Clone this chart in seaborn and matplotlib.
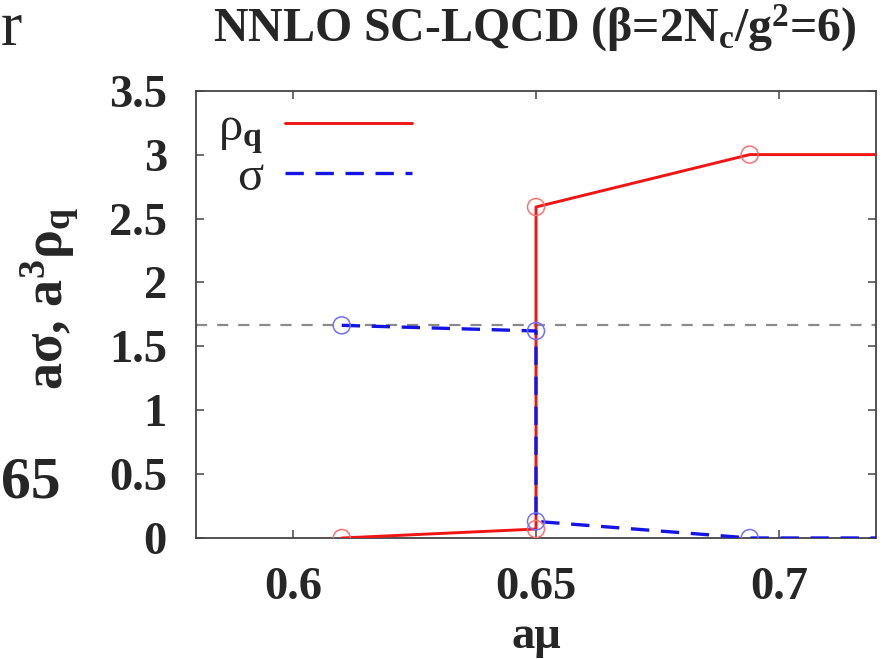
import matplotlib
matplotlib.use("Agg")
import matplotlib.pyplot as plt
import seaborn as sns

# a*mu values along each curve; the first-order jump at a*mu = 0.65 is a vertical step
mu_line = [0.61, 0.65, 0.65, 0.694, 0.72]
rho_line = [0.0, 0.07, 2.59, 3.0, 3.0]
sigma_line = [1.664, 1.62, 0.13, 0.0, 0.0]

# computed points (open circles)
mu_pts = [0.61, 0.65, 0.65, 0.694]
rho_pts = [0.0, 0.07, 2.59, 3.0]
sigma_pts = [1.664, 1.62, 0.13, 0.0]

# vacuum value of the chiral condensate
sigma_vac = 1.664

x_ticks = [0.6, 0.65, 0.7]
x_tick_labels = ["0.6", "0.65", "0.7"]
y_ticks = [0, 0.5, 1, 1.5, 2, 2.5, 3, 3.5]
y_tick_labels = ["0", "0.5", "1", "1.5", "2", "2.5", "3", "3.5"]

sns.set_style("ticks")
plt.rcParams["font.family"] = ["Liberation Serif", "DejaVu Serif"]
plt.rcParams["mathtext.fontset"] = "custom"
plt.rcParams["mathtext.rm"] = "Liberation Serif"
plt.rcParams["mathtext.it"] = "Liberation Serif:italic"
plt.rcParams["mathtext.bf"] = "Liberation Serif:bold"

W, H = 886, 659
fig = plt.figure(figsize=(W / 100, H / 100), dpi=100)
ax = fig.add_axes([196 / W, 1 - 538 / H, (876 - 196) / W, (538 - 90.7) / H])

red = "#f01414"
blue = "#1414e6"

ax.axhline(sigma_vac, color="#8a8a8a", lw=1.6, ls=(0, (5, 4.5)), zorder=1)

sns.lineplot(x=mu_line, y=rho_line, sort=False, estimator=None, ax=ax,
             color=red, lw=2.1, zorder=3)
rho_handle = ax.lines[-1]
sns.lineplot(x=mu_line, y=sigma_line, sort=False, estimator=None, ax=ax,
             color=blue, lw=2.4, ls=(0, (5.5, 3.5)), zorder=4)
sigma_handle = ax.lines[-1]

sns.scatterplot(x=mu_pts, y=rho_pts, ax=ax, marker="o", s=150,
                facecolors="none", edgecolor="#ff7070", linewidth=1.1, zorder=5)
sns.scatterplot(x=mu_pts, y=sigma_pts, ax=ax, marker="o", s=150,
                facecolors="none", edgecolor="#7070ff", linewidth=1.1, zorder=5)

ax.set_xlim(0.58, 0.72)
ax.set_ylim(0, 3.5)
ax.set_xticks(x_ticks)
ax.set_xticklabels(x_tick_labels)
ax.set_yticks(y_ticks)
ax.set_yticklabels(y_tick_labels)

for s in ax.spines.values():
    s.set_visible(True)
    s.set_color("#444444")
    s.set_linewidth(1.3)

ax.tick_params(axis="both", which="major", direction="in", length=6, width=1.1,
               color="#444444", top=True, right=True, labelsize=33.5)
ax.tick_params(axis="x", pad=21)
ax.tick_params(axis="y", pad=21)
for lab in ax.get_xticklabels() + ax.get_yticklabels():
    lab.set_fontweight("bold")

ax.set_xlabel("a\u03bc", fontsize=33.5, fontweight="bold")
ax.xaxis.set_label_coords(0.5, (538 - 648) / 447.3)
ax.xaxis.label.set_va("baseline")

ax.set_ylabel("a\u03c3, a$^{\\mathbf{3}}$\u03c1$_{\\mathbf{q}}$", fontsize=39,
              fontweight="bold")
ax.yaxis.label.set_rotation_mode("anchor")
ax.yaxis.label.set_ha("center")
ax.yaxis.label.set_va("baseline")
ax.yaxis.set_label_coords((63 - 196) / 680, (538 - 298) / 447.3)

leg = ax.legend([rho_handle, sigma_handle],
                ["\u03c1$_{\\mathbf{q}}$", "\u03c3"],
                loc="upper left", bbox_to_anchor=(20 / 680, 1 - 13 / 447.3),
                markerfirst=False, frameon=False, fontsize=35,
                handlelength=2.6, handletextpad=0.45, labelspacing=0.0,
                borderaxespad=0.05, borderpad=0.0)

fig.text(535 / W, 1 - 42 / H,
         "NNLO SC-LQCD (\u03b2=2N$_{\\mathbf{c}}$/g$^{\\mathbf{2}}$=6)",
         ha="center", va="baseline", fontsize=34.5, fontweight="bold")

# fragments of the neighbouring panels at the left edge
fig.text(1 / W, 1 - 45 / H, "r", ha="left", va="baseline", fontsize=46)
fig.text(1 / W, 1 - 497 / H, "65", ha="left", va="baseline", fontsize=43,
         fontweight="bold")

fig.savefig("out.png", dpi=100)
